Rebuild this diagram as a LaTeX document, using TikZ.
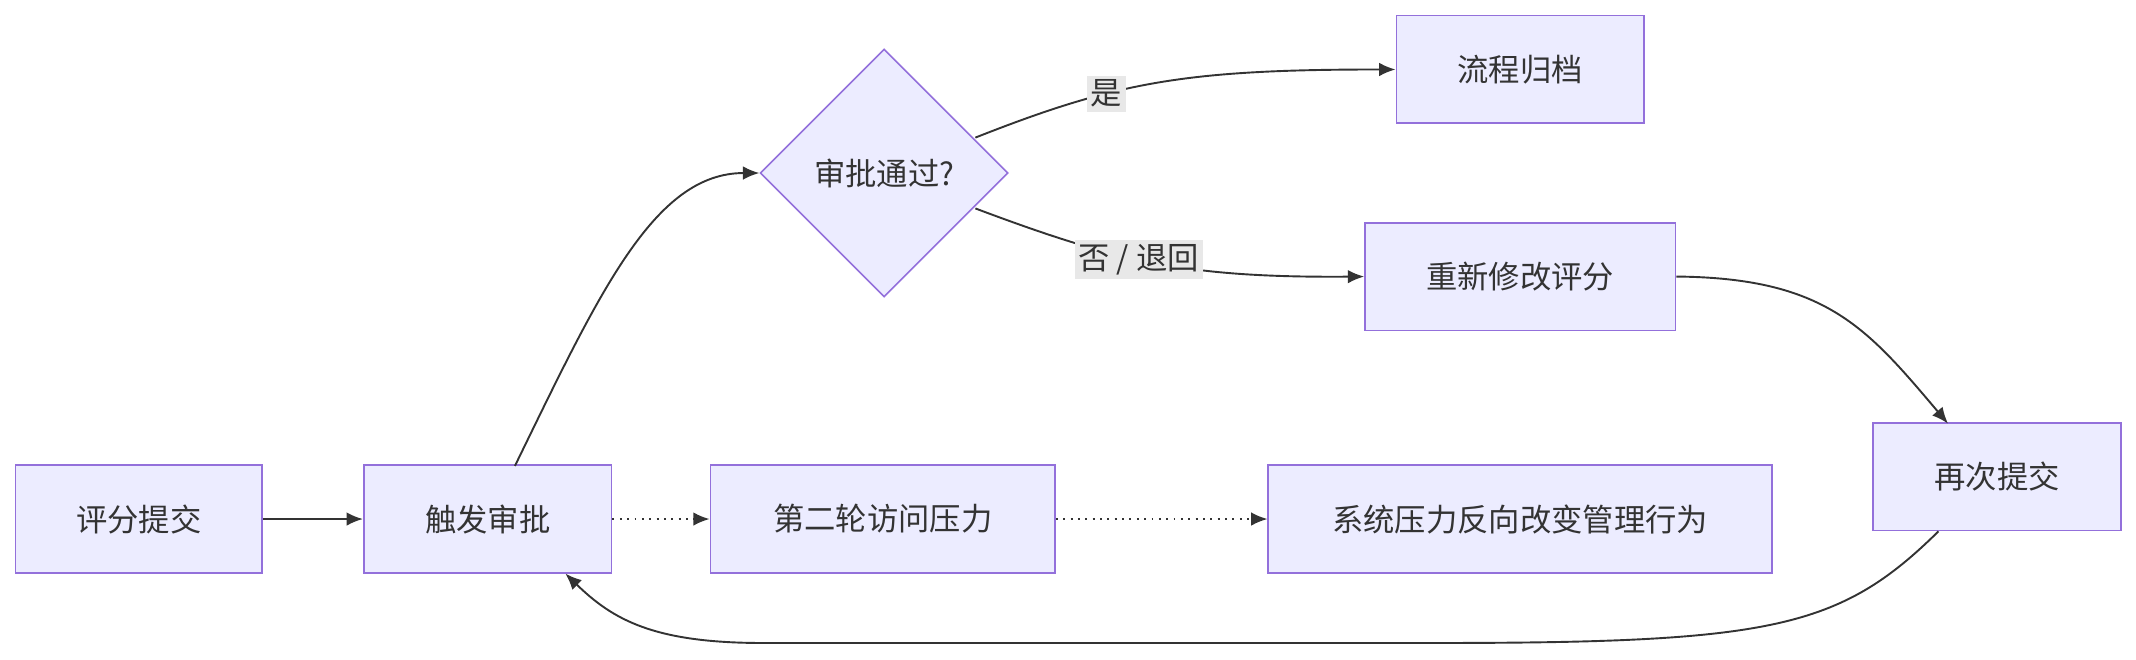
\documentclass[tikz,border=0pt]{standalone}
\usepackage{fontspec}
\newfontfamily\cjk{Noto Sans CJK SC}
\usetikzlibrary{shapes.geometric,arrows.meta}
\definecolor{nfill}{HTML}{ECECFF}
\definecolor{nline}{HTML}{9370DB}
\definecolor{eline}{HTML}{333333}
\definecolor{lbg}{HTML}{E8E8E8}
\begin{document}
\begin{tikzpicture}[x=0.5pt,y=-0.5pt,
  box/.style={draw=nline,fill=nfill,line width=0.6pt,minimum height=39.5pt,inner sep=0pt,font=\cjk\fontsize{11.5}{14}\selectfont,text=eline},
  dia/.style={draw=nline,fill=nfill,line width=0.6pt,diamond,minimum width=91pt,minimum height=91pt,inner sep=0pt,font=\cjk\fontsize{11.5}{14}\selectfont,text=eline},
  edge/.style={draw=eline,line width=0.7pt,-{Latex[length=6pt,width=5pt]}},
  lab/.style={fill=lbg,inner sep=1.5pt,font=\cjk\fontsize{11.5}{14}\selectfont,text=eline}]
\useasboundingbox (0,0) rectangle (1568,484);
\node[box,minimum width=90.5pt] (a) at (102,381) {评分提交};
\node[box,minimum width=91pt] (b) at (358,381) {触发审批};
\node[box,minimum width=126.5pt] (c) at (648,381) {第二轮访问压力};
\node[box,minimum width=185pt] (d) at (1116,381) {系统压力反向改变管理行为};
\node[box,minimum width=91pt] (e) at (1466,350) {再次提交};
\node[dia] (f) at (649,127) {审批通过?};
\node[box,minimum width=91pt] (g) at (1116,51) {流程归档};
\node[box,minimum width=114pt] (h) at (1116,203) {重新修改评分};
\draw[edge] (a) -- (b);
\draw[edge,dotted] (b) -- (c);
\draw[edge,dotted] (c) -- (d);
\draw[edge] (378,342) .. controls (440,215) and (480,127) .. (f.west);
\draw[edge] (716,101) .. controls (820,60) and (870,51) .. (g.west) node[lab,pos=0.35] {是};
\draw[edge] (716,153) .. controls (820,192) and (870,204) .. (h.west) node[lab,pos=0.45] {否 / 退回};
\draw[edge] (h.east) .. controls (1340,204) and (1370,240) .. (1430,311);
\draw[edge] (1423,390) .. controls (1350,462) and (1300,472) .. (1050,472) -- (560,472) .. controls (480,472) and (450,455) .. (415,421);
\end{tikzpicture}
\end{document}
